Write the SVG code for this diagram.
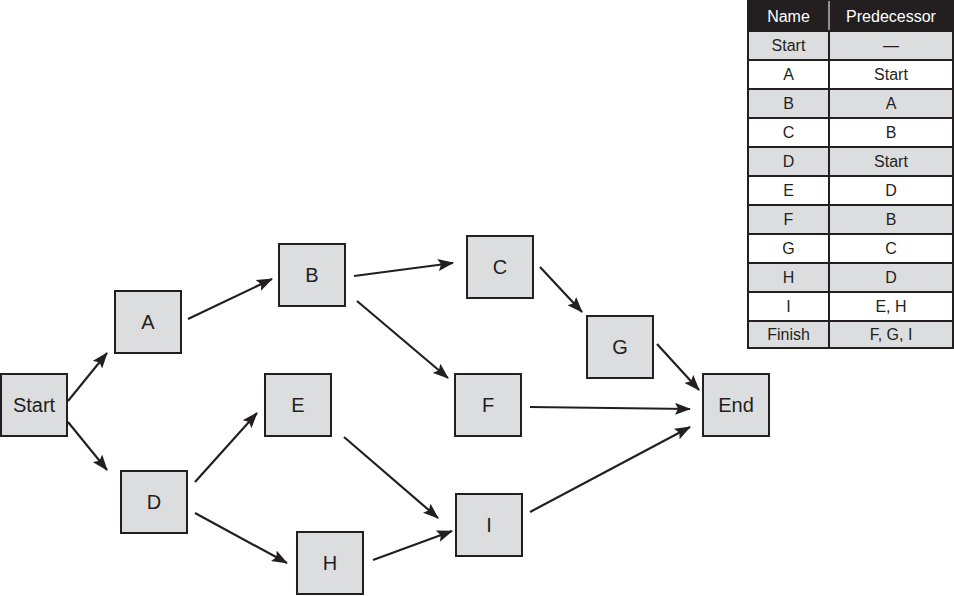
<svg xmlns="http://www.w3.org/2000/svg" width="954" height="596" viewBox="0 0 954 596">
<style>
.node rect{fill:#dcdddf;stroke:#231f20;stroke-width:2}
.node text{font-family:"Liberation Sans",Arial,sans-serif;font-size:20px;fill:#231f20;text-anchor:middle;dominant-baseline:central}
#connectors line{stroke:#231f20;stroke-width:2.2;marker-end:url(#ah)}
.cell{stroke:#231f20;stroke-width:2}
.g{fill:#dcdddf}
.w{fill:#ffffff}
.tt{font-family:"Liberation Sans",Arial,sans-serif;font-size:16px;fill:#231f20;text-anchor:middle;dominant-baseline:central}
.th{fill:#ffffff}
</style>
<defs>
<marker id="ah" markerUnits="userSpaceOnUse" markerWidth="16" markerHeight="12" refX="15" refY="6" orient="auto">
<path d="M0,0 L16,6 L0,12 L3,6 Z" fill="#231f20"/>
</marker>
</defs>
<rect width="954" height="596" fill="#ffffff"/>
<g id="connectors">
<line x1="68" y1="401" x2="107" y2="353"/>
<line x1="68" y1="422" x2="107" y2="470"/>
<line x1="188" y1="319" x2="272" y2="279"/>
<line x1="354" y1="276" x2="453" y2="263"/>
<line x1="357" y1="301" x2="448" y2="378"/>
<line x1="540" y1="267" x2="582" y2="312"/>
<line x1="657" y1="344" x2="699" y2="390"/>
<line x1="530" y1="407" x2="690" y2="409"/>
<line x1="530" y1="512" x2="690" y2="427"/>
<line x1="195" y1="482" x2="257" y2="413"/>
<line x1="195" y1="513" x2="287" y2="563"/>
<line x1="344" y1="437" x2="438" y2="518"/>
<line x1="373" y1="560" x2="452" y2="531"/>
</g>
<g id="node-start" class="node"><rect x="1" y="374" width="66" height="62"/><text x="34" y="405">Start</text></g>
<g id="node-a" class="node"><rect x="115" y="291" width="66" height="62"/><text x="148" y="322">A</text></g>
<g id="node-b" class="node"><rect x="279" y="244" width="66" height="62"/><text x="312" y="275">B</text></g>
<g id="node-c" class="node"><rect x="467" y="236" width="66" height="62"/><text x="500" y="267">C</text></g>
<g id="node-d" class="node"><rect x="121" y="471" width="66" height="62"/><text x="154" y="502">D</text></g>
<g id="node-e" class="node"><rect x="265" y="374" width="66" height="62"/><text x="298" y="405">E</text></g>
<g id="node-f" class="node"><rect x="455" y="374" width="66" height="62"/><text x="488" y="405">F</text></g>
<g id="node-g" class="node"><rect x="587" y="316" width="66" height="62"/><text x="620" y="347">G</text></g>
<g id="node-h" class="node"><rect x="297" y="532" width="66" height="62"/><text x="330" y="563">H</text></g>
<g id="node-i" class="node"><rect x="456" y="494" width="66" height="62"/><text x="489" y="525">I</text></g>
<g id="node-end" class="node"><rect x="703" y="374" width="66" height="62"/><text x="736" y="405">End</text></g>
<g id="table">
<rect x="748" y="1" width="205" height="30" fill="#231f20" stroke="#231f20" stroke-width="2"/>
<line x1="829" y1="1" x2="829" y2="31" stroke="#ffffff" stroke-width="1"/>
<text class="tt th" x="788.5" y="16">Name</text>
<text class="tt th" x="891" y="16">Predecessor</text>
<g>
<rect class="cell g" x="748" y="31" width="81" height="29"/><rect class="cell g" x="829" y="31" width="124" height="29"/>
<text class="tt" x="788.5" y="45.5">Start</text><text class="tt" x="891" y="45.5">—</text>
<rect class="cell w" x="748" y="60" width="81" height="29"/><rect class="cell w" x="829" y="60" width="124" height="29"/>
<text class="tt" x="788.5" y="74.5">A</text><text class="tt" x="891" y="74.5">Start</text>
<rect class="cell g" x="748" y="89" width="81" height="29"/><rect class="cell g" x="829" y="89" width="124" height="29"/>
<text class="tt" x="788.5" y="103.5">B</text><text class="tt" x="891" y="103.5">A</text>
<rect class="cell w" x="748" y="118" width="81" height="29"/><rect class="cell w" x="829" y="118" width="124" height="29"/>
<text class="tt" x="788.5" y="132.5">C</text><text class="tt" x="891" y="132.5">B</text>
<rect class="cell g" x="748" y="147" width="81" height="29"/><rect class="cell g" x="829" y="147" width="124" height="29"/>
<text class="tt" x="788.5" y="161.5">D</text><text class="tt" x="891" y="161.5">Start</text>
<rect class="cell w" x="748" y="176" width="81" height="29"/><rect class="cell w" x="829" y="176" width="124" height="29"/>
<text class="tt" x="788.5" y="190.5">E</text><text class="tt" x="891" y="190.5">D</text>
<rect class="cell g" x="748" y="205" width="81" height="29"/><rect class="cell g" x="829" y="205" width="124" height="29"/>
<text class="tt" x="788.5" y="219.5">F</text><text class="tt" x="891" y="219.5">B</text>
<rect class="cell w" x="748" y="234" width="81" height="29"/><rect class="cell w" x="829" y="234" width="124" height="29"/>
<text class="tt" x="788.5" y="248.5">G</text><text class="tt" x="891" y="248.5">C</text>
<rect class="cell g" x="748" y="263" width="81" height="29"/><rect class="cell g" x="829" y="263" width="124" height="29"/>
<text class="tt" x="788.5" y="277.5">H</text><text class="tt" x="891" y="277.5">D</text>
<rect class="cell w" x="748" y="292" width="81" height="29"/><rect class="cell w" x="829" y="292" width="124" height="29"/>
<text class="tt" x="788.5" y="306.5">I</text><text class="tt" x="891" y="306.5">E, H</text>
<rect class="cell g" x="748" y="321" width="81" height="27"/><rect class="cell g" x="829" y="321" width="124" height="27"/>
<text class="tt" x="788.5" y="334.5">Finish</text><text class="tt" x="891" y="334.5">F, G, I</text>
</g>
</g>
</svg>
